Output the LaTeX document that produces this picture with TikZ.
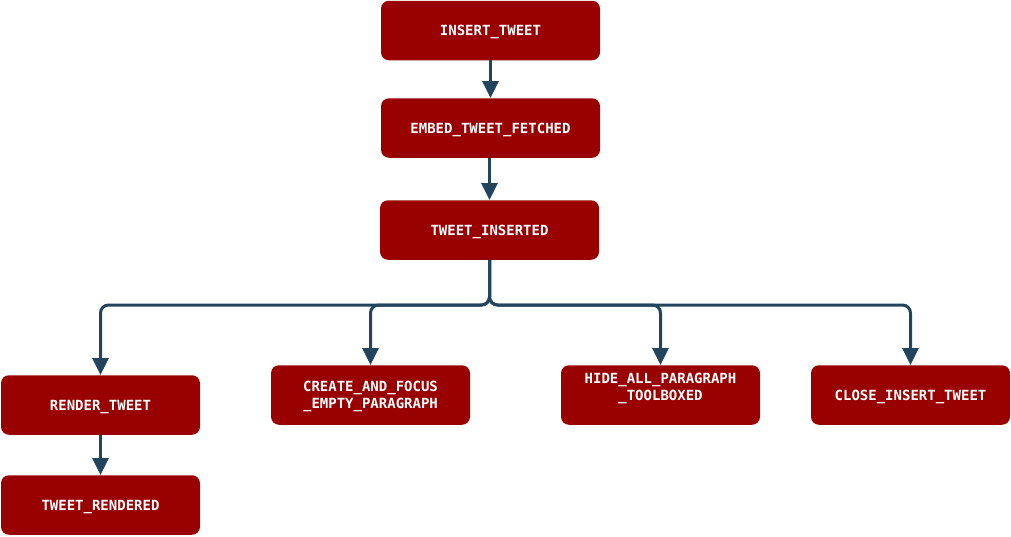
\documentclass[tikz,border=0pt]{standalone}
\usepackage{fontspec}
\setmonofont{DejaVu Sans Mono}
\usetikzlibrary{arrows.meta}
\definecolor{boxred}{HTML}{990000}
\definecolor{conncol}{HTML}{23445D}
\tikzset{
  evbox/.style={fill=boxred, rounded corners=8pt, text=white, align=center,
    inner sep=0pt, minimum height=59.5pt, text depth=0pt,
    font=\fontsize{14}{17}\selectfont\ttfamily\bfseries},
  wide/.style={minimum width=219pt},
  narrow/.style={minimum width=199pt},
  conn/.style={draw=conncol, line width=3pt, rounded corners=8pt,
    -{Triangle[length=17pt,width=16pt]}}
}
\begin{document}
\begin{tikzpicture}[x=1pt,y=-1pt]
\useasboundingbox (0,0) rectangle (1011,536);
\node[evbox,wide] (it) at (490.5,30.5) {INSERT\_TWEET};
\node[evbox,wide] (ef) at (490.5,128) {EMBED\_TWEET\_FETCHED};
\node[evbox,wide] (ti) at (489.5,230) {TWEET\_INSERTED};
\node[evbox,narrow] (rt) at (100.5,405) {RENDER\_TWEET};
\node[evbox,narrow] (tr) at (100.5,505) {TWEET\_RENDERED};
\node[evbox,narrow] (cf) at (370.5,395) {CREATE\_AND\_FOCUS\\\_EMPTY\_PARAGRAPH};
\node[evbox,narrow] (hp) at (660.5,395) {HIDE\_ALL\_PARAGRAPH\\\_TOOLBOXED\\\mbox{}};
\node[evbox,narrow] (ci) at (910.5,395) {CLOSE\_INSERT\_TWEET};
\coordinate (bus) at (0,305);
\draw[conn] (it) -- (ef);
\draw[conn] (ti.north |- ef.south) -- (ti.north);
\draw[conn] (ti.south) -- (ti.south |- bus) -| (rt.north);
\draw[conn] (ti.south) -- (ti.south |- bus) -| (cf.north);
\draw[conn] (ti.south) -- (ti.south |- bus) -| (hp.north);
\draw[conn] (ti.south) -- (ti.south |- bus) -| (ci.north);
\draw[conn] (rt) -- (tr);
\end{tikzpicture}
\end{document}
